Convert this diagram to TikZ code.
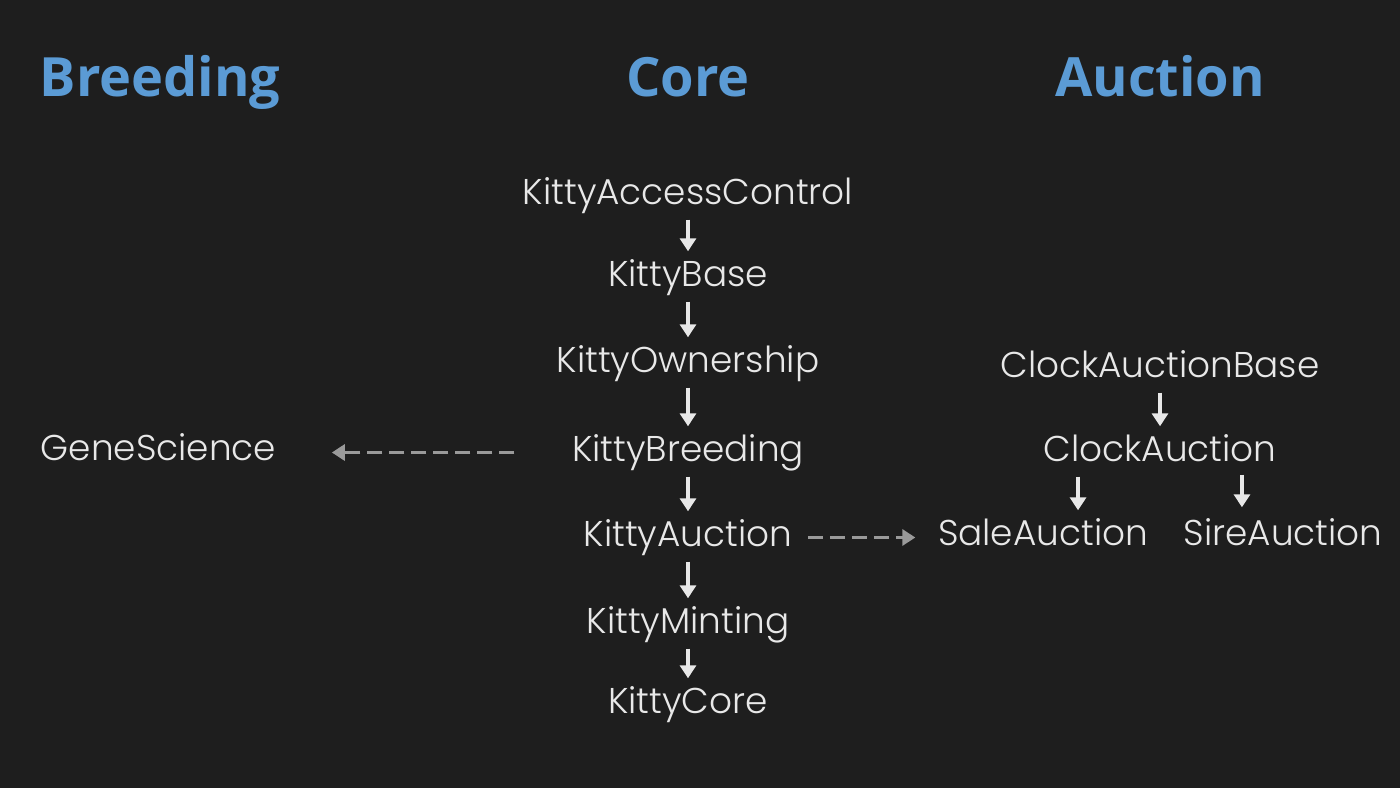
\documentclass[tikz,border=0pt]{standalone}
\usepackage{fontspec}
\usetikzlibrary{arrows.meta,positioning,calc}
\newfontfamily\titlefont{Open Sans}
\newfontfamily\clsfont{Poppins Light}
\definecolor{bgdark}{RGB}{30,30,30}
\definecolor{titleblue}{RGB}{91,155,213}
\definecolor{clstext}{RGB}{232,232,232}
\definecolor{dashgray}{RGB}{154,154,154}

\begin{document}
\begin{tikzpicture}[
    title/.style={anchor=base, inner sep=0pt, font=\titlefont\bfseries\fontsize{15.4}{18}\selectfont, text=titleblue},
    cls/.style={anchor=base, inner sep=0pt, text height=0.25cm, text depth=0.08cm, font=\clsfont\fontsize{10.2}{12}\selectfont, text=clstext},
    inherit/.style={-{Triangle[width=0.16cm, length=0.13cm]}, line width=0.95pt, draw=clstext, shorten <=0.07cm, shorten >=0.09cm},
    uses/.style={-{Triangle[width=0.16cm, length=0.13cm]}, line width=0.9pt, draw=dashgray, dash pattern=on 0.15cm off 0.07cm},
]

% Background and bounds
\fill[bgdark] (0,0) rectangle (14,-7.88);
\useasboundingbox (0,0) rectangle (14,-7.88);

% Titles
\node[title] (tbreed) at (1.60,-0.96) {Breeding};
\node[title] (tcore) at (6.88,-0.96) {Core};
\node[title] (tauct) at (11.60,-0.96) {Auction};

% Core chain
\node[cls] (kac) at (6.88,-2.04) {KittyAccessControl};
\node[cls] (kbase) at (6.88,-2.86) {KittyBase};
\node[cls] (kown) at (6.88,-3.72) {KittyOwnership};
\node[cls] (kbreed) at (6.88,-4.61) {KittyBreeding};
\node[cls] (kauct) at (6.88,-5.46) {KittyAuction};
\node[cls] (kmint) at (6.88,-6.33) {KittyMinting};
\node[cls] (kcore) at (6.88,-7.13) {KittyCore};

\foreach \a/\b in {kac/kbase, kbase/kown, kown/kbreed, kbreed/kauct, kauct/kmint, kmint/kcore}
    \draw[inherit] (\a) -- (\b);

% Breeding
\node[cls] (gene) at (1.585,-4.60) {GeneScience};
\draw[uses, shorten <=0.57cm, shorten >=0.55cm] (kbreed.west) -- (kbreed.west -| gene.east);

% Auction
\node[cls] (cab) at (11.60,-3.77) {ClockAuctionBase};
\node[cls] (ca) at (11.60,-4.61) {ClockAuction};
\node[cls] (sale) at (10.43,-5.45) {SaleAuction};
\node[cls] (sire) at (12.83,-5.45) {SireAuction};

\draw[inherit] (cab) -- (ca);
\coordinate (caL) at ($(ca.south west)!0.15!(ca.south east)$);
\coordinate (caR) at ($(ca.south west)!0.85!(ca.south east)$);
\draw[inherit] (caL) -- (caL |- sale.north);
\draw[inherit, shorten <=0.05cm, shorten >=0.12cm] (caR) -- (caR |- sire.north);

\draw[uses, shorten <=0.15cm, shorten >=0.22cm] (kauct.east) -- (kauct.east -| sale.west);

\end{tikzpicture}
\end{document}
